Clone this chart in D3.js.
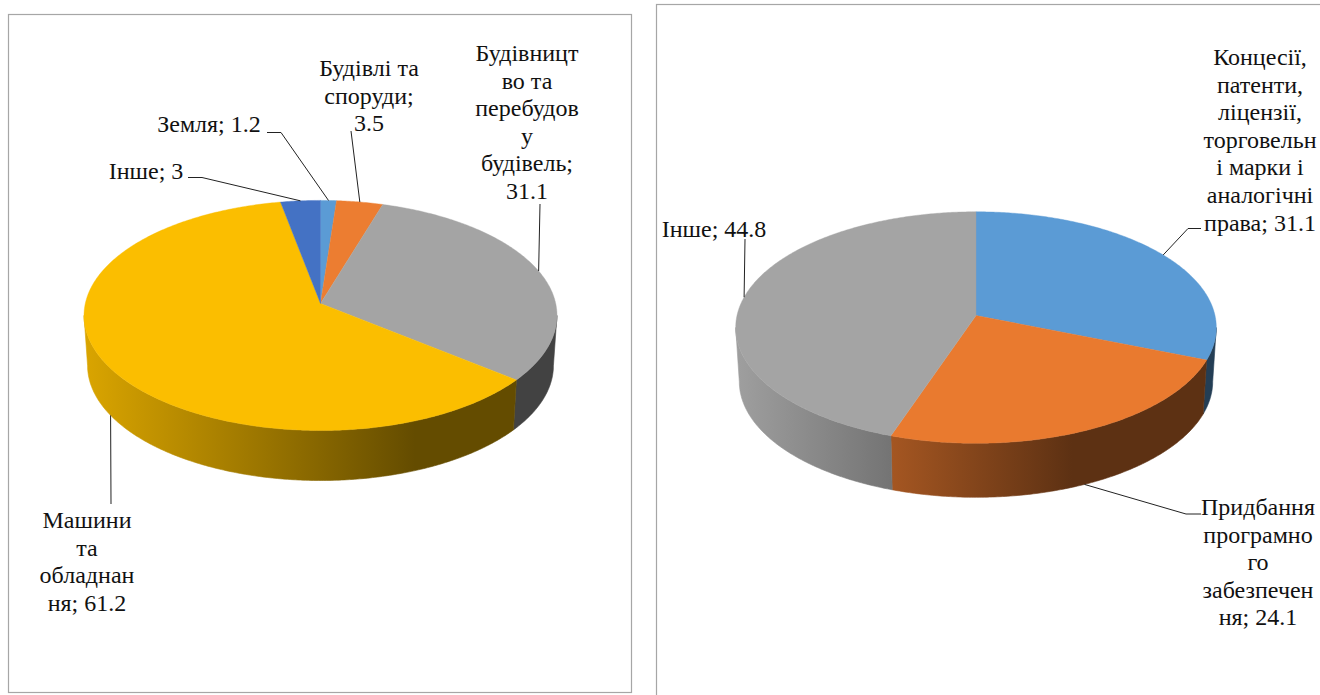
<!DOCTYPE html>
<html><head><meta charset="utf-8">
<script src="https://cdn.jsdelivr.net/npm/d3@7/dist/d3.min.js"></script>
<style>html,body{margin:0;padding:0;background:#fff;overflow:hidden}svg{display:block}
text{font-family:"Liberation Serif","Times New Roman",serif;font-size:24px;fill:#111;text-anchor:middle}</style>
</head><body><svg id="c" width="1320" height="695"></svg>
<script>
// Chart 1
const categoriesA = ["Земля","Будівлі та споруди","Будівництво та перебудову будівель","Машини та обладнання","Інше"];
const valuesA = [1.2,3.5,31.1,61.2,3];
const colorsA = ["#5b9bd5","#ec7d31","#a4a4a4","#fbbe00","#4472c4"];
const labelLinesA = [["Земля; 1.2"],["Будівлі та","споруди;","3.5"],["Будівницт","во та","перебудов","у","будівель;","31.1"],["Машини","та","обладнан","ня; 61.2"],["Інше; 3"]];
// Chart 2
const categoriesB = ["Концесії, патенти, ліцензії, торговельні марки і аналогічні права","Придбання програмного забезпечення","Інше"];
const valuesB = [31.1,24.1,44.8];
const colorsB = ["#5b9bd5","#e97a2f","#a4a4a4"];
const labelLinesB = [["Концесії,","патенти,","ліцензії,","торговельн","і марки і","аналогічні","права; 31.1"],["Придбання","програмно","го","забезпечен","ня; 24.1"],["Інше; 44.8"]];

const svg = d3.select("#c"), defs = svg.append("defs");
const LH = 27.6;

const charts = [
 {id:"a",values:valuesA,colors:colorsA,lines:labelLinesA,frame:[8.5,14.5,623,678],
  cx:320.5,cy:303.5,a:235.2,b:113.8,k:0.104,depth:50,shade0:0.87,
  labels:[
   {x:209,y:124,elbow:[[281,132.5],[267,132.5]]},
   {x:369,y:68,elbow:[[351,131]]},
   {x:527,y:53,elbow:[[540,204]]},
   {x:87,y:520,elbow:[[111,504]],wall:true},
   {x:146,y:171,elbow:[[202,177.5],[188,177.5]]}]},
 {id:"b",values:valuesB,colors:colorsB,lines:labelLinesB,frame:[656.5,4.5,700,720],
  cx:976,cy:315.5,a:239,b:114.5,k:0.104,depth:54,shade0:0.97,
  labels:[
   {x:1260,y:57,elbow:[[1188,228.5],[1201,228.5]]},
   {x:1258,y:507,elbow:[[1186,514],[1201,514]],wall:true},
   {x:714,y:229,elbow:[[745,239]]}]}
];

const line = d3.line();
const TAU = 2*Math.PI;

charts.forEach(c=>{
  const [fx,fy,fw,fh]=c.frame;
  svg.append("rect").attr("x",fx).attr("y",fy).attr("width",fw).attr("height",fh)
     .attr("fill","#fff").attr("stroke","#a6a6a6").attr("stroke-width",1.2);

  // perspective projection of a point on the disc (theta clockwise from 12 o'clock)
  const proj=(t,r=1)=>{const s=Math.sin(t)*r,co=Math.cos(t)*r,d=1+c.k*co;
    return [c.cx+c.a*s/d,c.cy-c.b*co/d];};
  const low=(t)=>{const p=proj(t);return [c.cx+(p[0]-c.cx)*0.985,p[1]+c.depth];};
  const arcPts=(a0,a1,f)=>{const n=Math.max(2,Math.ceil((a1-a0)/0.01));
    return d3.range(n+1).map(i=>f(a0+(a1-a0)*i/n));};

  const arcs=d3.pie().sort(null)(c.values);
  const xLeft=c.cx-c.a/Math.sqrt(1-c.k*c.k), width=2*c.a/Math.sqrt(1-c.k*c.k);
  const wallFrom=Math.acos(-c.k), wallTo=TAU-wallFrom;

  // side walls
  arcs.forEach((d,i)=>{
    const a0=Math.max(d.startAngle,wallFrom),a1=Math.min(d.endAngle,wallTo);
    if(a1<=a0) return;
    const base=d3.rgb(c.colors[i]), mul=f=>d3.rgb(base.r*f,base.g*f,base.b*f).formatHex();
    const gid=`g${c.id}${i}`;
    const g=defs.append("linearGradient").attr("id",gid).attr("gradientUnits","userSpaceOnUse")
      .attr("x1",xLeft).attr("x2",xLeft+width*0.7).attr("y1",0).attr("y2",0);
    g.append("stop").attr("offset",0).attr("stop-color",mul(c.shade0));
    g.append("stop").attr("offset",1).attr("stop-color",mul(0.4));
    const pts=arcPts(a0,a1,proj).concat(arcPts(a0,a1,low).reverse());
    svg.append("path").attr("d",line(pts)+"Z").attr("fill",`url(#${gid})`)
       .attr("stroke",`url(#${gid})`).attr("stroke-width",0.6);
  });
  // top faces
  arcs.forEach((d,i)=>{
    const pts=[[c.cx,c.cy]].concat(arcPts(d.startAngle,d.endAngle,proj));
    svg.append("path").attr("d",line(pts)+"Z").attr("fill",c.colors[i])
       .attr("stroke",c.colors[i]).attr("stroke-width",0.4);
  });
  // labels and leaders
  arcs.forEach((d,i)=>{
    const l=c.labels[i], mid=(d.startAngle+d.endAngle)/2;
    const anchor=l.wall?low(mid):proj(mid);
    svg.append("path").attr("d",line([anchor,...l.elbow])).attr("fill","none")
       .attr("stroke","#222").attr("stroke-width",1);
    c.lines[i].forEach((t,j)=>{
      svg.append("text").attr("x",l.x).attr("y",l.y+j*LH).attr("dy","0.33em").text(t);
    });
  });
});
</script></body></html>
